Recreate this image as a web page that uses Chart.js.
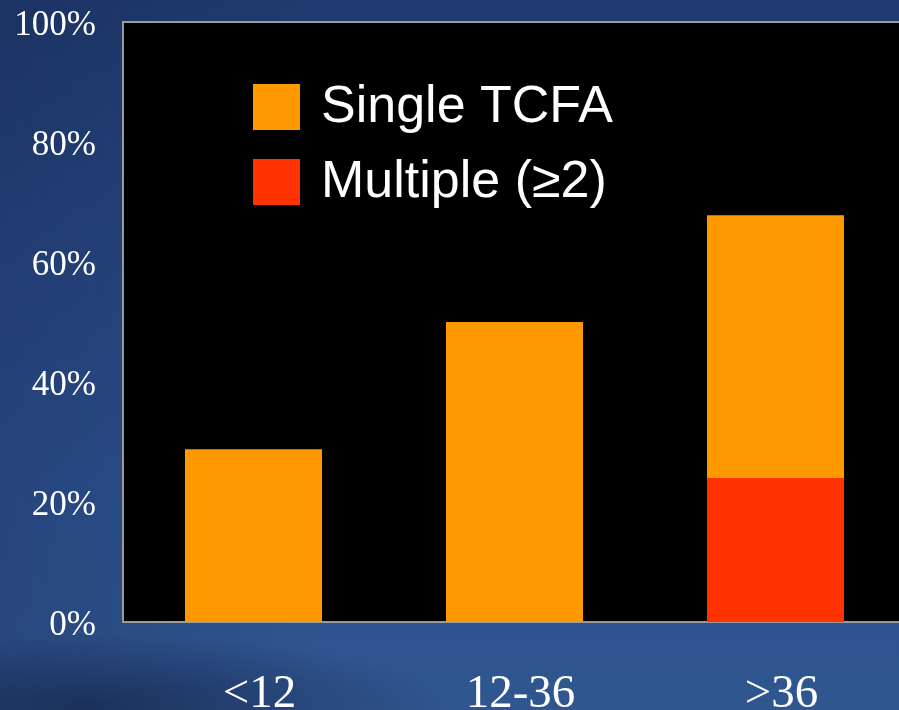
<!DOCTYPE html>
<html>
<head>
<meta charset="utf-8">
<title>TCFA by follow-up</title>
<script src="https://cdn.jsdelivr.net/npm/chart.js@4/dist/chart.umd.min.js"></script>
<style>
  html, body { margin: 0; padding: 0; width: 899px; height: 710px; overflow: hidden; }
  body {
    background:
      radial-gradient(ellipse 360px 70px at 90px 705px, rgba(22,40,78,0.75), rgba(22,40,78,0) 100%),
      linear-gradient(90deg, rgba(15,25,60,0.22) 0%, rgba(15,25,60,0) 35%),
      linear-gradient(180deg, #1f3a6e 0%, #264680 35%, #2d5190 70%, #30568f 100%);
  }
  #wrap { position: absolute; left: 0; top: 0; width: 910px; height: 710px; }
</style>
</head>
<body>
<div id="wrap"><canvas id="chart"></canvas></div>
<script>
// Follow-up categories (months)
const categories = ['<12', '12-36', '>36'];
// Share of patients (%) by TCFA count
const singleTCFA = [28.8, 50, 43.8];
const multipleTCFA = [0, 0, 24];
const yTicks = [0, 20, 40, 60, 80, 100];
const seriesNames = ['Single TCFA', 'Multiple (\u22652)'];
const seriesColors = ['#ff9900', '#ff3300'];

// Black plot panel with a grey frame
const panelPlugin = {
  id: 'panel',
  beforeDraw(chart) {
    const a = chart.chartArea, ctx = chart.ctx;
    ctx.save();
    ctx.fillStyle = '#000000';
    ctx.fillRect(a.left, a.top, a.right - a.left, a.bottom - a.top);
    ctx.strokeStyle = '#9a9a9a';
    ctx.lineWidth = 2;
    ctx.strokeRect(a.left, a.top, a.right - a.left, a.bottom - a.top);
    ctx.restore();
  }
};

// Legend drawn inside the plot panel
const innerLegend = {
  id: 'innerLegend',
  afterDraw(chart) {
    const a = chart.chartArea, ctx = chart.ctx;
    const x0 = a.left + 130, y0 = a.top + 62;
    ctx.save();
    ctx.font = '52px "Liberation Sans", Arial, sans-serif';
    ctx.textBaseline = 'alphabetic';
    ctx.textAlign = 'left';
    seriesNames.forEach((name, i) => {
      const y = y0 + i * 75;
      ctx.fillStyle = seriesColors[i];
      ctx.fillRect(x0, y, 47, 46);
      ctx.fillStyle = '#ffffff';
      ctx.fillText(name, x0 + 68, y + 38);
    });
    ctx.restore();
  }
};

new Chart(document.getElementById('chart'), {
  type: 'bar',
  data: {
    labels: categories,
    datasets: [
      { label: seriesNames[1], data: multipleTCFA, backgroundColor: seriesColors[1], borderWidth: 0 },
      { label: seriesNames[0], data: singleTCFA, backgroundColor: seriesColors[0], borderWidth: 0 }
    ]
  },
  options: {
    responsive: true,
    maintainAspectRatio: false,
    animation: false,
    layout: { padding: { top: 22, right: 4, bottom: 0, left: 0 } },
    datasets: { bar: { categoryPercentage: 1, barPercentage: 0.525 } },
    plugins: { legend: { display: false }, tooltip: { enabled: false } },
    scales: {
      x: {
        stacked: true,
        grid: { display: false, drawTicks: false },
        border: { display: true, color: '#9a9a9a', width: 2 },
        ticks: {
          color: '#ffffff',
          font: { family: '"Liberation Serif", "Times New Roman", serif', size: 47 },
          padding: 44,
          labelOffset: 6
        },
        afterFit(scale) {
          scale.height = 88;
          scale.paddingLeft = 0; scale.paddingRight = 0;
        }
      },
      y: {
        stacked: true,
        min: 0,
        max: 100,
        afterBuildTicks(scale) { scale.ticks = yTicks.map(v => ({ value: v })); },
        grid: { display: false, drawTicks: false },
        border: { display: true, color: '#9a9a9a', width: 2 },
        ticks: {
          color: '#ffffff',
          font: { family: '"Liberation Serif", "Times New Roman", serif', size: 35 },
          padding: 27,
          labelOffset: 4,
          callback: v => v + '%'
        },
        afterFit(scale) {
          scale.width = 123;
          scale.paddingTop = 0; scale.paddingBottom = 0;
        }
      }
    }
  },
  plugins: [panelPlugin, innerLegend]
});
</script>
</body>
</html>
